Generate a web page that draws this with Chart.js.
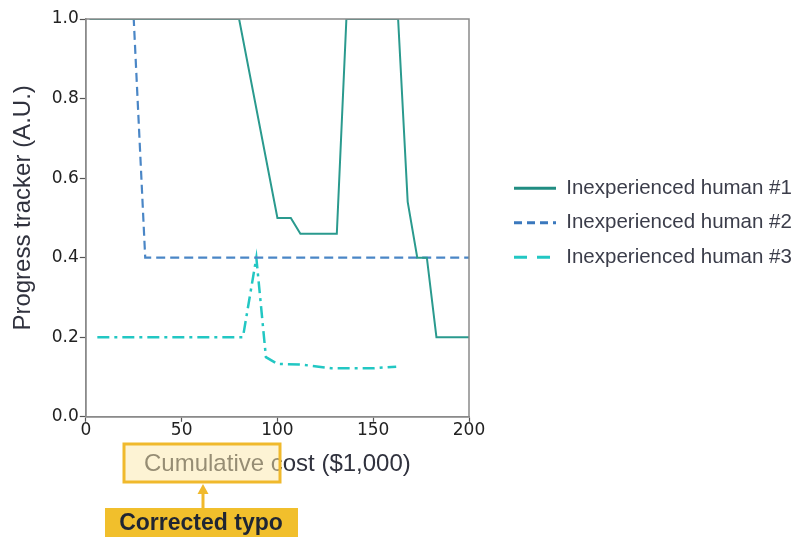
<!DOCTYPE html>
<html>
<head>
<meta charset="utf-8">
<script src="https://cdn.jsdelivr.net/npm/chart.js@4.4.1/dist/chart.umd.min.js"></script>
<style>
  html, body { margin: 0; padding: 0; background: #ffffff; }
  #wrap { width: 793px; height: 537px; position: relative; }
</style>
</head>
<body>
<div id="wrap"><canvas id="c" width="793" height="537"></canvas></div>
<script>
// ---- data ----
const seriesNames = ["Inexperienced human #1", "Inexperienced human #2", "Inexperienced human #3"];
const human1X = [2, 80, 100, 107, 112, 131, 136, 163, 168, 173, 178, 183, 200];
const human1Y = [1.0, 1.0, 0.50, 0.50, 0.46, 0.46, 1.0, 1.0, 0.54, 0.40, 0.40, 0.20, 0.20];
const human2X = [2, 25, 31, 200];
const human2Y = [1.0, 1.0, 0.40, 0.40];
const human3X = [6, 82, 89, 94, 100, 113, 128, 150, 162];
const human3Y = [0.20, 0.20, 0.40, 0.15, 0.133, 0.131, 0.122, 0.122, 0.126];
const xTicks = [0, 50, 100, 150, 200];
const yTicks = [0.0, 0.2, 0.4, 0.6, 0.8, 1.0];
const xTitle = "Cumulative cost ($1,000)";
const yTitle = "   Progress tracker (A.U.)";
const noteText = "Corrected typo";

const pts = (xs, ys) => xs.map((x, i) => ({ x: x, y: ys[i] }));

const frame = {
  id: 'frame',
  afterDatasetsDraw(chart) {
    const { ctx, chartArea: a } = chart;
    ctx.save();
    ctx.strokeStyle = '#8a8a8a';
    ctx.lineWidth = 1.5;
    ctx.strokeRect(a.left, a.top, a.right - a.left, a.bottom - a.top);
    ctx.restore();
  }
};

const note = {
  id: 'note',
  afterDraw(chart) {
    const { ctx } = chart;
    ctx.save();
    // highlight box over axis title
    ctx.fillStyle = 'rgba(252, 232, 170, 0.5)';
    ctx.fillRect(124, 444, 156, 38);
    ctx.strokeStyle = '#f0b92c';
    ctx.lineWidth = 3;
    ctx.strokeRect(124, 444, 156, 38);
    // arrow
    ctx.beginPath();
    ctx.moveTo(203, 494);
    ctx.lineTo(203, 509);
    ctx.stroke();
    ctx.fillStyle = '#f0b92c';
    ctx.beginPath();
    ctx.moveTo(203, 484);
    ctx.lineTo(197.5, 494);
    ctx.lineTo(208.5, 494);
    ctx.closePath();
    ctx.fill();
    // label
    ctx.fillStyle = '#f1bf2c';
    ctx.fillRect(105, 508, 193, 29);
    ctx.fillStyle = '#1f2533';
    ctx.font = 'bold 23px "Liberation Sans", Arial, sans-serif';
    ctx.textAlign = 'center';
    ctx.textBaseline = 'middle';
    ctx.fillText(noteText, 201, 524);
    ctx.restore();
  }
};

const tickFont = { family: '"DejaVu Sans", sans-serif', size: 17 };
const titleFont = { family: '"Liberation Sans", Arial, sans-serif', size: 24 };

new Chart(document.getElementById('c'), {
  type: 'line',
  data: {
    datasets: [
      { label: seriesNames[0], data: pts(human1X, human1Y), borderColor: '#2a9a8e', backgroundColor: '#2a9a8e',
        borderWidth: 2, pointRadius: 0, tension: 0 },
      { label: seriesNames[1], data: pts(human2X, human2Y), borderColor: '#4a86c6', backgroundColor: '#4a86c6',
        borderWidth: 2.2, borderDash: [9, 5], pointRadius: 0, tension: 0 },
      { label: seriesNames[2], data: pts(human3X, human3Y), borderColor: '#22c7c3', backgroundColor: '#22c7c3',
        borderWidth: 2.5, borderDash: [12, 5, 3, 5], pointRadius: 0, tension: 0 }
    ]
  },
  options: {
    responsive: false,
    animation: false,
    devicePixelRatio: 1,
    layout: { padding: { left: 4, top: 19, right: 0, bottom: 58 } },
    plugins: {
      tooltip: { enabled: false },
      legend: {
        position: 'right',
        align: 'center',
        fullSize: false,
        maxWidth: 293,
        title: { display: true, text: ' ', font: { size: 8 }, padding: 0 },
        labels: {
          usePointStyle: true,
          pointStyle: 'line',
          pointStyleWidth: 42,
          boxHeight: 20,
          padding: 14,
          color: '#3b3d4a',
          font: { family: '"Liberation Sans", Arial, sans-serif', size: 20.5 },
          generateLabels(chart) {
            const items = Chart.defaults.plugins.legend.labels.generateLabels(chart);
            items.forEach((it, i) => {
              it.pointStyle = 'line';
              if (i === 0) it.strokeStyle = '#218d82';
              if (i === 1) { it.lineDash = [8, 5]; it.strokeStyle = '#3a78bd'; }
              if (i === 2) it.lineDash = [13, 10];
              it.lineWidth = 3;
            });
            return items;
          }
        }
      }
    },
    scales: {
      x: {
        type: 'linear', min: 0, max: 200,
        afterBuildTicks(s) { s.ticks = xTicks.map(v => ({ value: v })); },
        ticks: { font: tickFont, color: '#222', padding: -1, maxRotation: 0 },
        grid: { drawOnChartArea: false, tickLength: 5, color: '#555', tickWidth: 1.2 },
        border: { display: true, color: '#8a8a8a', width: 1.5 },
        title: { display: true, text: xTitle, font: titleFont, color: '#30323e', padding: { top: 10, bottom: 0 } }
      },
      y: {
        type: 'linear', min: 0, max: 1,
        afterBuildTicks(s) { s.ticks = yTicks.map(v => ({ value: v })); },
        ticks: { font: tickFont, color: '#222', padding: 1, callback: v => Number(v).toFixed(1) },
        grid: { drawOnChartArea: false, tickLength: 6, color: '#555', tickWidth: 1.2 },
        border: { display: true, color: '#8a8a8a', width: 1.5 },
        title: { display: true, text: yTitle, font: titleFont, color: '#30323e', padding: { top: 5, bottom: 13 } }
      },
      gap: {
        type: 'linear', position: 'right', display: true,
        grid: { display: false }, ticks: { display: false }, border: { display: false },
        afterFit(s) { s.width = 31; }
      }
    }
  },
  plugins: [frame, note]
});
</script>
</body>
</html>
